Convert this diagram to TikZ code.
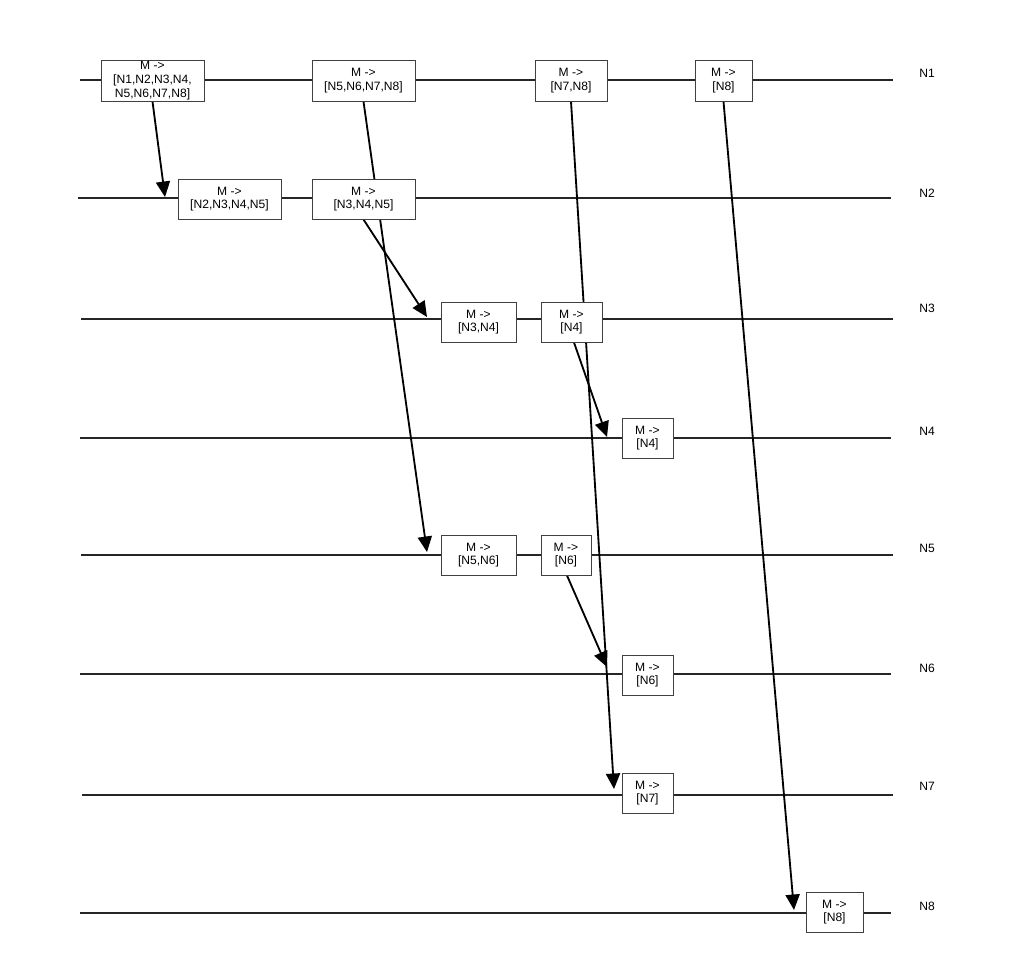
\documentclass[tikz,border=0pt]{standalone}
\usepackage{fontspec}
\setmainfont{Liberation Sans}
\usetikzlibrary{arrows.meta,backgrounds}

\tikzset{
  msg/.style={draw=black!75, line width=0.7pt, fill=white, align=center, inner sep=0pt, minimum height=40*\pu, font=\fontsize{8.6}{9.7}\selectfont},
  life/.style={line width=1.4pt, black!85},
  send/.style={line width=1.3pt, -{Triangle[length=11pt,width=10pt]}}
}
\def\pu{0.025cm}

\begin{document}
\begin{tikzpicture}[x=0.025cm, y=-0.025cm]
\useasboundingbox (0,0) rectangle (1020,960);

\node[msg, minimum width=103*\pu, minimum height=41*\pu] (n1a) at (152.5, 80.5) {M ->\\{}[N1,N2,N3,N4,\\N5,N6,N7,N8]};
\node[msg, minimum width=103*\pu, minimum height=41*\pu] (n1b) at (363.5, 80.5) {M ->\\{}[N5,N6,N7,N8]};
\node[msg, minimum width=72*\pu, minimum height=41*\pu] (n1c) at (571, 80.5) {M ->\\{}[N7,N8]};
\node[msg, minimum width=57*\pu, minimum height=41*\pu] (n1d) at (723.5, 80.5) {M ->\\{}[N8]};

\node[msg, minimum width=103*\pu] (n2a) at (229.5, 199) {M ->\\{}[N2,N3,N4,N5]};
\node[msg, minimum width=103*\pu] (n2b) at (363.5, 199) {M ->\\{}[N3,N4,N5]};

\node[msg, minimum width=75*\pu] (n3a) at (478.5, 322) {M ->\\{}[N3,N4]};
\node[msg, minimum width=61*\pu] (n3b) at (571.5, 322) {M ->\\{}[N4]};

\node[msg, minimum width=51*\pu] (n4a) at (647.5, 438) {M ->\\{}[N4]};

\node[msg, minimum width=75*\pu] (n5a) at (478.5, 555) {M ->\\{}[N5,N6]};
\node[msg, minimum width=50*\pu] (n5b) at (566, 555) {M ->\\{}[N6]};

\node[msg, minimum width=51*\pu] (n6a) at (647.5, 675) {M ->\\{}[N6]};
\node[msg, minimum width=51*\pu] (n7a) at (647.5, 793) {M ->\\{}[N7]};
\node[msg, minimum width=57*\pu] (n8a) at (834.5, 912) {M ->\\{}[N8]};

% arrow tips
\coordinate (t2) at (165, 197);
\coordinate (t3) at (427, 317);
\coordinate (t4) at (607, 437);
\coordinate (t5) at (427, 552);
\coordinate (t6) at (607, 667);
\coordinate (t7) at (614, 789);
\coordinate (t8) at (794, 910);

\begin{pgfonlayer}{background}
\foreach \i/\y/\xa/\xb/\ly in {1/80/80/893/73, 2/198/78/891/193, 3/319/81/893/308, 4/438/80/891/431, 5/555/81/893/548, 6/674/80/891/668, 7/795/82/893/786, 8/913/80/891/906} {
  \coordinate (s\i) at (\xa, \y);
  \coordinate (e\i) at (\xb, \y);
  \node[font=\fontsize{8.6}{9.7}\selectfont] (lab\i) at (927, \ly) {N\i};
  \draw[life] (s\i) -- (e\i);
}

\draw[send] (n1a.south) -- (t2);
\draw[send] (n1b.south) -- (t5);
\draw[send] (n1c.south) -- (t7);
\draw[send] (n1d.south) -- (t8);
\draw[send] (n2b.south) -- (t3);
\draw[send] ([xshift=2.5*\pu]n3b.south) -- (t4);
\draw[send] ([xshift=1*\pu]n5b.south) -- (t6);
\end{pgfonlayer}

\end{tikzpicture}
\end{document}
